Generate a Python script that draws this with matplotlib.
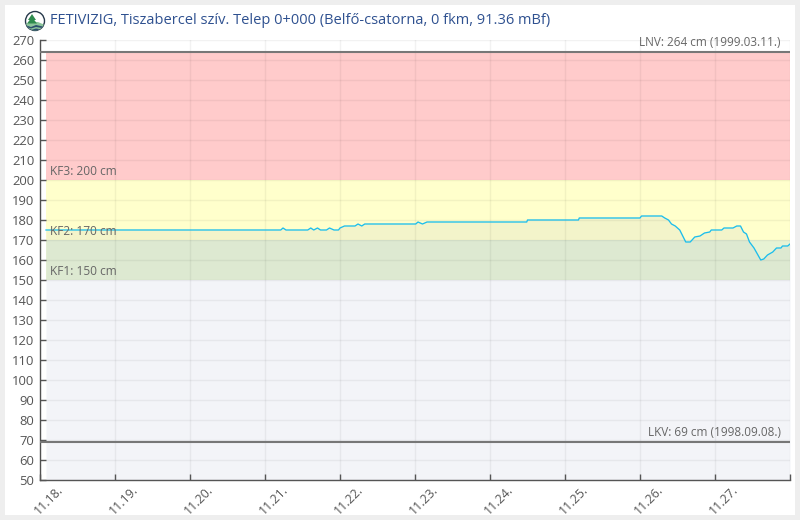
import matplotlib
matplotlib.use("Agg")
import matplotlib.pyplot as plt
from matplotlib.patches import Rectangle, Circle, Polygon
from matplotlib.transforms import ScaledTranslation

days = [18.08, 21.21, 21.24, 21.28, 21.57, 21.61, 21.65, 21.70, 21.74, 21.82, 21.86, 21.92, 21.98,
        22.0, 22.06, 22.2, 22.24, 22.29, 22.33, 23.01, 23.04, 23.10, 23.16, 24.49, 24.50, 25.18,
        25.19, 26.0, 26.02, 26.29, 26.33, 26.38, 26.42, 26.47, 26.53, 26.57, 26.61, 26.67, 26.73,
        26.80, 26.86, 26.93, 26.95, 27.09, 27.12, 27.24, 27.29, 27.34, 27.38, 27.42, 27.46, 27.52,
        27.55, 27.61, 27.65, 27.70, 27.77, 27.82, 27.88, 27.90, 27.97, 28.0]
levels = [175, 175, 176, 175, 175, 176, 175, 176, 175, 175, 176, 175, 175,
          176, 177, 177, 178, 177, 178, 178, 179, 178, 179, 179, 180, 180,
          181, 181, 182, 182, 181, 180, 178, 177, 175, 172, 169, 169, 171.5,
          172, 173.5, 174, 175, 175, 176, 176, 177, 177, 174, 173, 169, 166,
          164, 160, 160.5, 162.5, 164, 166, 166, 167, 167, 168]

y_ticks = list(range(50, 271, 10))
x_ticks = list(range(18, 29))
x_labels = ["11.18.", "11.19.", "11.20.", "11.21.", "11.22.", "11.23.", "11.24.", "11.25.",
            "11.26.", "11.27.", ""]

band_low = [150, 170, 200]
band_high = [170, 200, 264]
band_colors = ["#e7f3d4", "#ffffcc", "#ffcbcb"]
kf_values = [150, 170, 200]
kf_labels = ["KF1: 150 cm", "KF2: 170 cm", "KF3: 200 cm"]
record_values = [264, 69]
record_labels = ["LNV: 264 cm (1999.03.11.)", "LKV: 69 cm (1998.09.08.)"]
title = "FETIVIZIG, Tiszabercel szív. Telep 0+000 (Belfő-csatorna, 0 fkm, 91.36 mBf)"

plt.rcParams["font.family"] = ["Open Sans", "DejaVu Sans"]

fig = plt.figure(figsize=(8, 5.2), dpi=100, facecolor="#eeeeee")
fig.patches.append(Rectangle((5 / 800, 5 / 520), 790 / 800, 510 / 520, transform=fig.transFigure,
                             facecolor="white", edgecolor="none", zorder=-1))

ax = fig.add_axes([40 / 800, 40 / 520, 750 / 800, 440 / 520])
ax.patch.set_alpha(0)
ax.set_xlim(18, 28)
ax.set_ylim(50, 270)

# alert bands
for low, high, c in zip(band_low, band_high, band_colors):
    ax.fill_between([days[0], 28], low, high, color=c, lw=0, zorder=1)

# area under the level
ax.fill_between(days, levels, 50, color="#7d87b9", alpha=0.09, lw=0, zorder=2)
ax.plot(days, levels, color="#1cbdec", lw=0.95, zorder=5)

ax.set_xticks(x_ticks)
ax.set_xticklabels(x_labels)
ax.set_yticks(y_ticks)
ax.grid(True, color="#000000", alpha=0.05, lw=1, zorder=3)
ax.set_axisbelow(False)
for gl in ax.get_xgridlines() + ax.get_ygridlines():
    gl.set_zorder(3)

ax.tick_params(axis="both", direction="in", length=4, width=1, color="#555555", labelcolor="#555555")
ax.tick_params(axis="y", labelsize=9.4, pad=4)
ax.tick_params(axis="x", labelsize=9, pad=2.5)
for lab in ax.get_xticklabels():
    lab.set_rotation(45)
    lab.set_ha("center")
    lab.set_va("top")
    lab.set_transform(lab.get_transform() + ScaledTranslation(8.5 / 100, 0, fig.dpi_scale_trans))

for side in ["top", "right"]:
    ax.spines[side].set_visible(False)
for side in ["left", "bottom"]:
    ax.spines[side].set_color("#555555")
    ax.spines[side].set_linewidth(1)

# record lines
for v, lab in zip(record_values, record_labels):
    ax.axhline(v, color="#777777", lw=1.5, zorder=4)
    ax.annotate(lab, (28, v), xytext=(-6.5, 2), textcoords="offset points", ha="right", va="bottom",
                fontsize=8.5, color="#666666", zorder=6)

for v, lab in zip(kf_values, kf_labels):
    ax.annotate(lab, (18, v), xytext=(7.2, 1.5), textcoords="offset points", ha="left", va="bottom",
                fontsize=8.6, color="#666666", zorder=6)

fig.text(50 / 800, 1 - 21 / 520, title, fontsize=10.55, color="#2f5190", ha="left", va="center")

# logo
logo = fig.add_axes([24 / 800, 1 - 32 / 520, 22 / 800, 22 / 520])
logo.set_xlim(0, 22)
logo.set_ylim(0, 22)
logo.axis("off")
clip = Circle((11, 11), 9.5, facecolor="white", edgecolor="#26384a", lw=1)
logo.add_patch(clip)
hill = Polygon([(1, 8), (8, 10), (14, 10), (21, 7), (21, 1), (1, 1)], facecolor="#8cc49a", edgecolor="none")
wave1 = Polygon([(1, 7), (7, 5), (12, 7), (21, 5), (21, 3.5), (12, 5), (7, 3.5), (1, 5)], facecolor="#2c4f6e", edgecolor="none")
wave2 = Polygon([(1, 3.5), (7, 2), (12, 3.5), (21, 2), (21, 0), (1, 0)], facecolor="#2c4f6e", edgecolor="none")
tree1 = Polygon([(8, 18), (4, 12), (12, 12)], facecolor="#2e8b4e", edgecolor="none")
tree2 = Polygon([(8, 15), (3, 8.5), (13, 8.5)], facecolor="#2e8b4e", edgecolor="none")
for p in [hill, wave1, wave2, tree1, tree2]:
    logo.add_patch(p)
    p.set_clip_path(clip)

fig.savefig("out.png", dpi=100, facecolor=fig.get_facecolor())
plt.close(fig)
